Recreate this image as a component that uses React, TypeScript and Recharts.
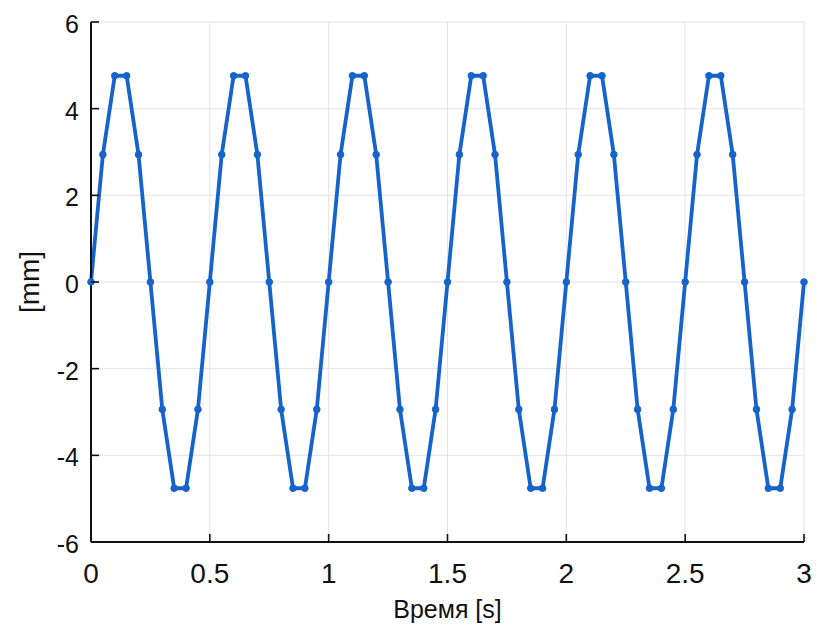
import React from 'react';
import { LineChart, Line, XAxis, YAxis, CartesianGrid } from 'recharts';

const times = [
  0, 0.05, 0.1, 0.15, 0.2, 0.25, 0.3, 0.35, 0.4, 0.45,
  0.5, 0.55, 0.6, 0.65, 0.7, 0.75, 0.8, 0.85, 0.9, 0.95,
  1.0, 1.05, 1.1, 1.15, 1.2, 1.25, 1.3, 1.35, 1.4, 1.45,
  1.5, 1.55, 1.6, 1.65, 1.7, 1.75, 1.8, 1.85, 1.9, 1.95,
  2.0, 2.05, 2.1, 2.15, 2.2, 2.25, 2.3, 2.35, 2.4, 2.45,
  2.5, 2.55, 2.6, 2.65, 2.7, 2.75, 2.8, 2.85, 2.9, 2.95,
  3.0,
];

const displacement = [
  0, 2.94, 4.76, 4.76, 2.94, 0, -2.94, -4.76, -4.76, -2.94,
  0, 2.94, 4.76, 4.76, 2.94, 0, -2.94, -4.76, -4.76, -2.94,
  0, 2.94, 4.76, 4.76, 2.94, 0, -2.94, -4.76, -4.76, -2.94,
  0, 2.94, 4.76, 4.76, 2.94, 0, -2.94, -4.76, -4.76, -2.94,
  0, 2.94, 4.76, 4.76, 2.94, 0, -2.94, -4.76, -4.76, -2.94,
  0, 2.94, 4.76, 4.76, 2.94, 0, -2.94, -4.76, -4.76, -2.94,
  0,
];

const xTicks = [0, 0.5, 1, 1.5, 2, 2.5, 3];
const yTicks = [-6, -4, -2, 0, 2, 4, 6];
const xLabel = 'Время [s]';
const yLabel = '[mm]';

const data = times.map((t, i) => ({ t, v: displacement[i] }));

const FONT = '"Liberation Sans", Arial, sans-serif';
const TICK_MARGIN = 12;
const TICK_LEN = 8;

const XTick = (props: any) => {
  const { x, y, payload } = props;
  const ay = y - TICK_MARGIN;
  return (
    <g>
      <line x1={x} x2={x} y1={ay} y2={ay - TICK_LEN} stroke="#111" strokeWidth={1.6} />
      <text x={x} y={y + 29} textAnchor="middle" fontSize={28} fontFamily={FONT} fill="#111">
        {payload.value}
      </text>
    </g>
  );
};

const YTick = (props: any) => {
  const { x, y, payload } = props;
  const ax = x + TICK_MARGIN;
  return (
    <g>
      <line x1={ax} x2={ax + TICK_LEN} y1={y} y2={y} stroke="#111" strokeWidth={1.6} />
      <text x={x} y={y + 11} textAnchor="end" fontSize={25} fontFamily={FONT} fill="#111">
        {payload.value}
      </text>
    </g>
  );
};

export default function App() {
  return (
    <div style={{ position: 'absolute', left: 0, top: 0, background: '#fff' }}>
      <LineChart
        width={817}
        height={627}
        data={data}
        margin={{ top: 22, right: 13, bottom: 25, left: 0 }}
      >
        <CartesianGrid stroke="#e2e2e8" strokeWidth={1} />
        <XAxis
          dataKey="t"
          type="number"
          domain={[0, 3]}
          ticks={xTicks}
          interval={0}
          height={60}
          tickSize={0}
          tickMargin={TICK_MARGIN}
          tickLine={false}
          axisLine={{ stroke: '#111', strokeWidth: 2 }}
          tick={<XTick />}
          label={{
            content: (p: any) => {
              const vb = p.viewBox;
              return (
                <text
                  x={vb.x + vb.width / 2}
                  y={618}
                  textAnchor="middle"
                  fontSize={25}
                  fontFamily={FONT}
                  fill="#111"
                >
                  {xLabel}
                </text>
              );
            },
          }}
        />
        <YAxis
          type="number"
          domain={[-6, 6]}
          ticks={yTicks}
          interval={0}
          width={91}
          tickSize={0}
          tickMargin={TICK_MARGIN}
          tickLine={false}
          axisLine={{ stroke: '#111', strokeWidth: 2 }}
          tick={<YTick />}
          label={{
            content: (p: any) => {
              const vb = p.viewBox;
              const cy = vb.y + vb.height / 2;
              return (
                <text
                  x={39}
                  y={cy}
                  textAnchor="middle"
                  fontSize={28}
                  fontFamily={FONT}
                  fill="#111"
                  transform={`rotate(-90, 39, ${cy})`}
                >
                  {yLabel}
                </text>
              );
            },
          }}
        />
        <Line
          type="linear"
          dataKey="v"
          stroke="#1763cc"
          strokeWidth={3.8}
          dot={{ r: 3.3, fill: '#1763cc', stroke: '#1763cc', strokeWidth: 1 }}
          activeDot={false}
          isAnimationActive={false}
        />
      </LineChart>
    </div>
  );
}
